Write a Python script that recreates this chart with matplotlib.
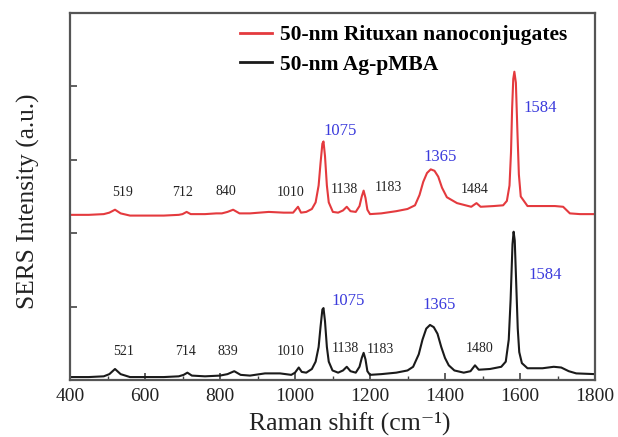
import matplotlib
matplotlib.use("Agg")
import matplotlib.pyplot as plt
from matplotlib.ticker import MultipleLocator, NullFormatter

plt.rcParams['font.family'] = ['Liberation Serif', 'DejaVu Serif']

# ---- data ----
shift_black = [400, 450, 490, 505, 520, 535, 560, 650, 690, 703, 713, 725, 760, 800, 820, 838, 855,
               880, 920, 960, 990, 1000, 1010, 1018, 1030, 1045, 1055, 1063, 1068, 1073, 1076, 1080,
               1085, 1090, 1100, 1115, 1128, 1138, 1148, 1162, 1172, 1178, 1183, 1188, 1193, 1200,
               1230, 1270, 1300, 1315, 1330, 1340, 1350, 1360, 1370, 1380, 1390, 1400, 1410, 1425,
               1450, 1468, 1480, 1490, 1520, 1550, 1562, 1570, 1575, 1580, 1583, 1586, 1590, 1594,
               1598, 1605, 1620, 1660, 1690, 1710, 1730, 1750, 1800]
int_black = [0.04, 0.04, 0.05, 0.08, 0.15, 0.08, 0.04, 0.04, 0.05, 0.07, 0.10, 0.06, 0.05, 0.06,
             0.08, 0.12, 0.07, 0.06, 0.09, 0.09, 0.07, 0.10, 0.17, 0.11, 0.10, 0.15, 0.25, 0.45,
             0.72, 0.96, 0.98, 0.80, 0.45, 0.25, 0.13, 0.10, 0.13, 0.18, 0.12, 0.10, 0.18, 0.30,
             0.37, 0.28, 0.12, 0.07, 0.08, 0.10, 0.13, 0.18, 0.35, 0.55, 0.70, 0.75, 0.72, 0.63,
             0.45, 0.30, 0.20, 0.13, 0.10, 0.12, 0.20, 0.14, 0.15, 0.18, 0.25, 0.55, 1.10, 1.85,
             2.02, 1.90, 1.30, 0.70, 0.38, 0.23, 0.16, 0.16, 0.18, 0.17, 0.12, 0.09, 0.08]

shift_red = [400, 450, 490, 505, 520, 535, 560, 650, 690, 700, 711, 722, 760, 790, 805, 820, 835,
             852, 880, 930, 970, 995, 1008, 1016, 1030, 1045, 1055, 1063, 1068, 1073, 1076, 1080,
             1085, 1090, 1101, 1115, 1128, 1138, 1148, 1162, 1172, 1178, 1183, 1188, 1193, 1200,
             1230, 1270, 1300, 1320, 1332, 1342, 1352, 1362, 1372, 1382, 1392, 1405, 1432, 1470,
             1484, 1495, 1530, 1555, 1565, 1572, 1576, 1579, 1582, 1585, 1589, 1593, 1597, 1602,
             1620, 1660, 1693, 1715, 1733, 1760, 1800]
int_red = [2.25, 2.25, 2.26, 2.28, 2.32, 2.27, 2.24, 2.24, 2.25, 2.26, 2.29, 2.26, 2.26, 2.27, 2.27,
           2.29, 2.32, 2.27, 2.27, 2.29, 2.28, 2.28, 2.36, 2.28, 2.29, 2.33, 2.42, 2.65, 2.95,
           3.22, 3.25, 3.05, 2.65, 2.42, 2.29, 2.28, 2.31, 2.36, 2.30, 2.29, 2.37, 2.50, 2.58,
           2.48, 2.32, 2.26, 2.27, 2.30, 2.33, 2.38, 2.52, 2.70, 2.82, 2.87, 2.85, 2.77, 2.62,
           2.49, 2.41, 2.36, 2.41, 2.36, 2.37, 2.38, 2.44, 2.65, 3.10, 3.70, 4.10, 4.20, 4.05,
           3.40, 2.80, 2.50, 2.37, 2.37, 2.37, 2.36, 2.27, 2.26, 2.26]

labels_red = ['519', '712', '840', '1010', '1075', '1138', '1183', '1365', '1484', '1584']
labx_red = [541, 699, 816, 987, 1120, 1131, 1248, 1387, 1480, 1653]
laby_red = [2.56, 2.55, 2.57, 2.56, 3.39, 2.59, 2.62, 3.04, 2.59, 3.70]
labels_black = ['521', '714', '839', '1010', '1075', '1138', '1183', '1365', '1480', '1584']
labx_black = [542, 709, 821, 987, 1142, 1133, 1227, 1385, 1491, 1667]
laby_black = [0.39, 0.39, 0.39, 0.39, 1.08, 0.43, 0.41, 1.02, 0.43, 1.43]
blue_labels = {'1075', '1365', '1584'}

series_names = ['50-nm Rituxan nanoconjugates', '50-nm Ag-pMBA']

xticks = [400, 600, 800, 1000, 1200, 1400, 1600, 1800]

# ---- figure ----
fig = plt.figure(figsize=(6.18, 4.37), dpi=100)
ax = fig.add_axes([70/618, 1-380/437, 525/618, 367/437])

red = '#e43a3e'
ax.plot(shift_red, int_red, color=red, lw=1.5, label=series_names[0])
ax.plot(shift_black, int_black, color='#1a1a1a', lw=1.5, label=series_names[1])

for labs, xs, ys in [(labels_red, labx_red, laby_red), (labels_black, labx_black, laby_black)]:
    for t, x, y in zip(labs, xs, ys):
        if t in blue_labels:
            ax.text(x, y, t, color='#3b3bdc', fontsize=12, ha='center', va='center')
        else:
            ax.text(x, y, t, color='#222222', fontsize=10, ha='center', va='center')

ax.set_xlim(400, 1800)
ax.set_ylim(0, 5)
ax.set_xticks(xticks)
ax.xaxis.set_minor_locator(MultipleLocator(100))
ax.set_yticks([1, 2, 3, 4])
ax.yaxis.set_major_formatter(NullFormatter())
ax.tick_params(axis='both', which='both', direction='in', top=False, right=False,
               color='#444444', labelsize=14, labelcolor='#222222')
ax.tick_params(which='major', length=5, width=1.2)
ax.tick_params(which='minor', length=3, width=1.0)
ax.tick_params(axis='x', pad=6)
for s in ax.spines.values():
    s.set_color('#555555')
    s.set_linewidth(1.6)

ax.set_xlabel('Raman shift (cm\u207b\u00b9)', fontsize=18.5, color='#222222')
ax.xaxis.set_label_coords(0.533, -(430-380)/367, transform=ax.transAxes)
ax.xaxis.label.set_va('baseline')
ax.set_ylabel('SERS Intensity (a.u.)', fontsize=18.3, color='#222222')
ax.yaxis.set_label_coords(-(70-28)/525, 0.488, transform=ax.transAxes)
ax.yaxis.label.set_va('center')

leg = ax.legend(loc='upper left', bbox_to_anchor=(240/618, 1-25/437),
                bbox_transform=fig.transFigure, frameon=False, borderpad=0, borderaxespad=0,
                handlelength=1.5, handletextpad=0.37, labelspacing=0.45,
                prop={'family': 'Liberation Serif', 'weight': 'bold', 'size': 15.5})
for line in leg.get_lines():
    line.set_linewidth(2.0)

fig.savefig('out.png', dpi=100)
